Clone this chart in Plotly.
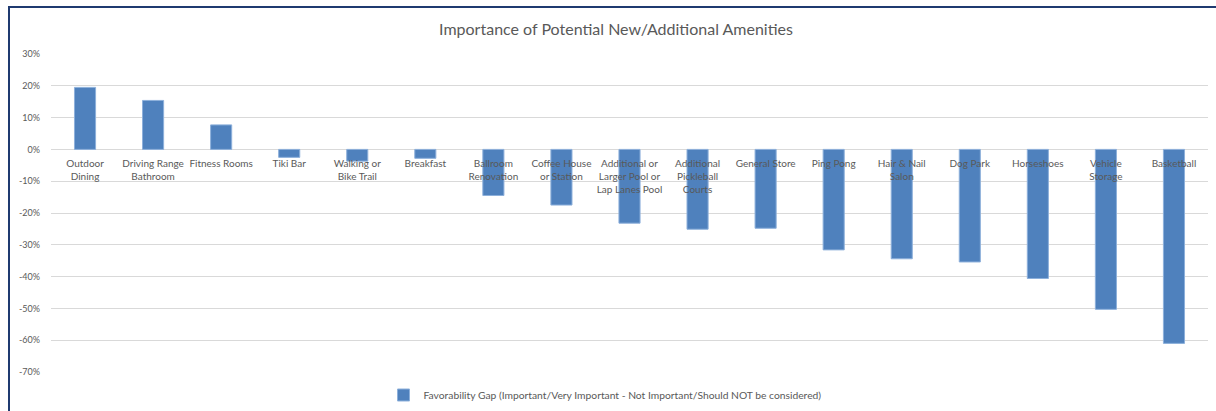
import plotly.graph_objects as go

categories = [
    "Outdoor<br>Dining", "Driving Range<br>Bathroom", "Fitness Rooms", "Tiki Bar",
    "Walking or<br>Bike Trail", "Breakfast", "Ballroom<br>Renovation",
    "Coffee House<br>or Station", "Additional or<br>Larger Pool or<br>Lap Lanes Pool",
    "Additional<br>Pickleball<br>Courts", "General Store", "Ping Pong",
    "Hair & Nail<br>Salon", "Dog Park", "Horseshoes", "Vehicle<br>Storage", "Basketball",
]
gap_values = [
    0.195, 0.154, 0.077, -0.025, -0.037, -0.028, -0.145, -0.175, -0.232,
    -0.251, -0.248, -0.316, -0.344, -0.354, -0.406, -0.503, -0.610,
]
series_name = "Favorability Gap (Important/Very Important - Not Important/Should NOT be considered)"
y_tickvals = [0.3, 0.2, 0.1, 0.0, -0.1, -0.2, -0.3, -0.4, -0.5, -0.6, -0.7]
y_ticktext = ["30%", "20%", "10%", "0%", "-10%", "-20%", "-30%", "-40%", "-50%", "-60%", "-70%"]
title_text = "Importance of Potential New/Additional Amenities"

FONT = "Lato"
GREY = "#595959"
W, H = 1216, 411
L, R, T, B = 51, 8, 54, 39
plot_w = W - L - R
plot_h = H - T - B
ymin, ymax = -0.7, 0.3

fig = go.Figure()
fig.add_trace(go.Bar(
    x=categories, y=gap_values, name=series_name, showlegend=True,
    width=0.31,
    marker=dict(color="#4F81BD", line=dict(color="#8DB0DB", width=1)),
))

def px_x(px):
    return (px - L) / plot_w

def px_y(py):
    return (H - B - py) / plot_h

fig.update_layout(
    width=W, height=H,
    margin=dict(l=L, r=R, t=T, b=B, autoexpand=False),
    paper_bgcolor="white", plot_bgcolor="white",
    font=dict(family=FONT, color=GREY),
    title=dict(text=title_text, x=616 / W, xanchor="center", xref="container",
               y=1 - 29 / H, yanchor="middle", yref="container",
               font=dict(size=16, color=GREY, family=FONT)),
    xaxis=dict(type="category", anchor="free", position=(0 - ymin) / (ymax - ymin),
               showline=False, showgrid=False, ticks="", zeroline=False,
               tickfont=dict(size=10, color=GREY, family=FONT), ticklabelstandoff=7,
               tickangle=0, automargin=False),
    yaxis=dict(range=[ymin, ymax], tickvals=y_tickvals, ticktext=y_ticktext,
               showgrid=True, gridcolor="#D9D9D9", gridwidth=1,
               zeroline=True, zerolinecolor="#D9D9D9", zerolinewidth=1,
               showline=False, ticks="", ticklabelstandoff=10, automargin=False,
               tickfont=dict(size=9, color=GREY, family=FONT)),
    legend=dict(orientation="h", x=605 / W, xanchor="center", xref="container",
                y=1 - 395 / H, yanchor="middle", yref="container",
                font=dict(size=10.3, color=GREY, family=FONT), itemwidth=30,
                bgcolor="rgba(0,0,0,0)"),
    shapes=[
        dict(type="line", xref="paper", yref="paper", x0=px_x(9), x1=px_x(1216),
             y0=px_y(7), y1=px_y(7), line=dict(color="#1F3A70", width=2)),
        dict(type="line", xref="paper", yref="paper", x0=px_x(9), x1=px_x(9),
             y0=px_y(6), y1=px_y(412), line=dict(color="#1F3A70", width=2)),
    ],
)

fig.write_html("out.html")
